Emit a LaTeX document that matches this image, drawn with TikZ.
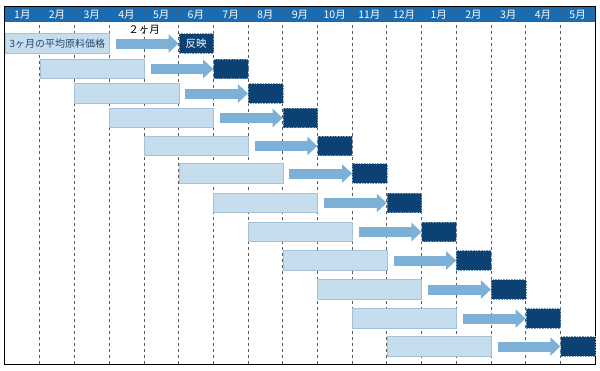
\documentclass[tikz,border=0pt]{standalone}
\usepackage{fontspec}
\setmainfont{Noto Sans CJK JP}
\usepackage{xcolor}
\usepackage{tikz}
\usetikzlibrary{arrows.meta,positioning,calc}
\definecolor{chartblue}{HTML}{1A6BB0}
\definecolor{barlight}{HTML}{C6DDEE}
\definecolor{barledge}{HTML}{A6C2DA}
\definecolor{bardark}{HTML}{0C4174}
\definecolor{arrowblue}{HTML}{7DB0D6}
\definecolor{gridgray}{HTML}{5A5A5A}
\definecolor{labeltext}{HTML}{23466E}

\begin{document}
\begin{tikzpicture}[
  x=1pt, y=-1pt,
  month/.style={font=\fontsize{10.5}{11}\selectfont, text=white, inner sep=0pt},
  lightbar/.style={fill=barlight, draw=barledge, line width=0.8pt, minimum width=104.1pt, minimum height=19.5pt, inner sep=0pt, anchor=west},
  darkbar/.style={fill=bardark, draw=bardark!55!white, densely dotted, line width=0.6pt, minimum width=34.7pt, minimum height=19.5pt, inner sep=0pt, anchor=west, text=white, font=\fontsize{10.5}{12}\selectfont},
  flow/.style={arrowblue, line width=10pt, -{Triangle[length=10pt,width=18pt]}},
  grid/.style={gridgray, dashed, line width=0.6pt},
  lbl/.style={font=\fontsize{10.5}{12}\selectfont, text=black, inner sep=0pt}
]
\useasboundingbox (0,0) rectangle (600,370);

% header band and month grid
\fill[chartblue] (5,7) rectangle (595,22);
\foreach \k in {1,...,16}
  \draw[grid] ({5+34.706*\k},7) -- ({5+34.706*\k},364);
\foreach \m [count=\i from 0] in {1,2,3,4,5,6,7,8,9,10,11,12,1,2,3,4,5}
  \node[month] (m\i) at ({5+34.706*(\i+0.5)},14.5) {\m 月};
\draw[black, line width=1pt] (4.5,6.5) rectangle (595.5,364.5);

% first row with its texts
\node[lightbar, text=labeltext, font=\fontsize{10}{12}\selectfont] (l1) at (5,43.5) {3ヶ月の平均原料価格};
\node[darkbar] (d1) at ({5+34.706*5},43.5) {反映};
\draw[flow] ([xshift=6pt]l1.east) -- node[lbl, above=4pt, xshift=-3pt] {２ヶ月} (d1.west);

% the other months
\foreach \yy [count=\n from 2] in {69,93.5,118,146,173.5,203,232,260.5,289.5,318.5,346.5} {
  \node[lightbar] (l\n) at ({5+34.706*(\n-1)},\yy) {};
  \node[darkbar] (d\n) at ({5+34.706*(\n+4)},\yy) {};
  \draw[flow] ([xshift=6pt]l\n.east) -- (d\n.west);
}

\end{tikzpicture}
\end{document}
